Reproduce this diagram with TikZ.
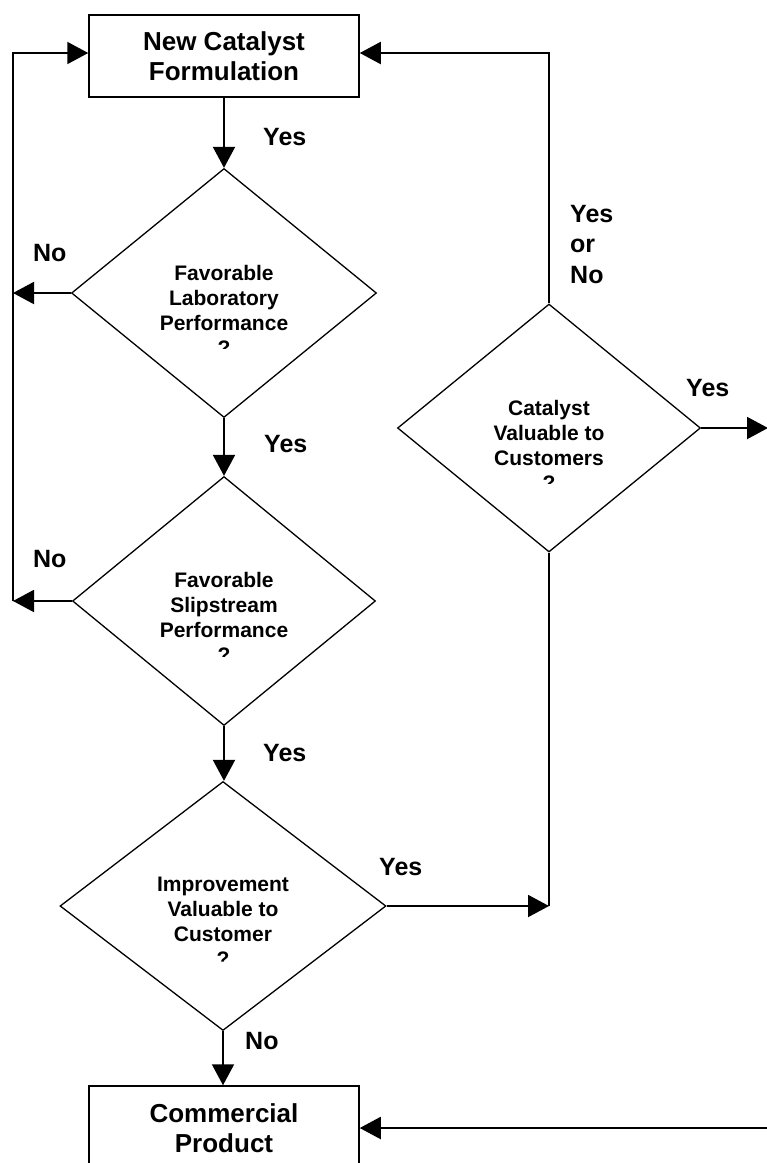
\documentclass[tikz,border=0pt]{standalone}
\usepackage{fontspec}
\setmainfont{Liberation Sans}
\usetikzlibrary{arrows.meta,shapes.geometric}
\begin{document}
\begin{tikzpicture}[x=1pt,y=-1pt,
  box/.style={draw,line width=1.5pt,minimum width=270pt,inner sep=0pt,
    font=\fontsize{26}{30}\selectfont\bfseries,align=center},
  dia/.style={draw,diamond,line width=1.3pt,inner sep=0pt},
  conn/.style={line width=2pt},
  arr/.style={conn,-{Triangle[length=21pt,width=22pt]}},
  diatext/.style={font=\fontsize{21}{25}\selectfont\bfseries,align=center,inner sep=0pt},
  lbl/.style={font=\fontsize{25}{30.5}\selectfont\bfseries,inner sep=0pt,anchor=base west,align=left},
]
\useasboundingbox (0,0) rectangle (767,1163);
\clip (0,0) rectangle (767,1163);

% boxes
\node[box,minimum height=82pt] (nc) at (224,56) {New Catalyst\\Formulation};
\node[box,minimum height=84pt] (cp) at (224,1128) {Commercial\\Product};

% diamonds
\node[dia,minimum width=305pt,minimum height=249pt] (d1) at (224,293) {};
\node[dia,minimum width=303pt,minimum height=249pt] (d2) at (224,601) {};
\node[dia,minimum width=326pt,minimum height=249pt] (d3) at (223,906) {};
\node[dia,minimum width=303pt,minimum height=248pt] (d4) at (549,428) {};

% diamond texts (question mark cut off as in the original)
\begin{scope}
  \clip (124,230) rectangle (324,348);
  \node[diatext] (t1) at (224,310) {Favorable\\Laboratory\\Performance\\?};
\end{scope}
\begin{scope}
  \clip (124,540) rectangle (324,656);
  \node[diatext] (t2) at (224,617) {Favorable\\Slipstream\\Performance\\?};
\end{scope}
\begin{scope}
  \clip (123,845) rectangle (323,961);
  \node[diatext] (t3) at (223,922) {Improvement\\Valuable to\\Customer\\?};
\end{scope}
\begin{scope}
  \clip (449,370) rectangle (649,483);
  \node[diatext] (t4) at (549,445) {Catalyst\\Valuable to\\Customers\\?};
\end{scope}

% free ends
\coordinate (L1) at (13,293);
\coordinate (L2) at (13,601);
\coordinate (LT) at (13,53);
\coordinate (RT) at (549,53);
\coordinate (RE) at (768,428);
\coordinate (RB) at (768,1128);

% connectors
\draw[arr] (nc.south) -- (d1.north);
\draw[arr] (d1.south) -- (d2.north);
\draw[arr] (d2.south) -- (d2.south |- d3.north);
\draw[arr] (d3.south) -- (d3.south |- cp.north);
\draw[arr] (d1.west) -- (L1);
\draw[arr] (d2.west) -- (L2);
\draw[arr] (L2) -- (LT) -- (LT -| nc.west);
\draw[arr] (d4.north) -- (RT) -- (RT -| nc.east);
\draw[arr] (d4.east) -- (RE);
\draw[arr] (d3.east) -- (d3.east -| d4.south);
\draw[conn] (d3.east -| d4.south) -- (d4.south);
\draw[arr] (RB) -- (cp.east);

% labels
\node[lbl] (y1) at (263,145) {Yes};
\node[lbl] (n1) at (33,261) {No};
\node[lbl] (y2) at (264,452) {Yes};
\node[lbl] (n2) at (33,567) {No};
\node[lbl] (y3) at (263,761) {Yes};
\node[lbl] (y4) at (379,875) {Yes};
\node[lbl] (n3) at (245,1049) {No};
\node[lbl] (yn) at (570,283) {Yes\\or\\No};
\node[lbl] (y5) at (686,396) {Yes};
\end{tikzpicture}
\end{document}
